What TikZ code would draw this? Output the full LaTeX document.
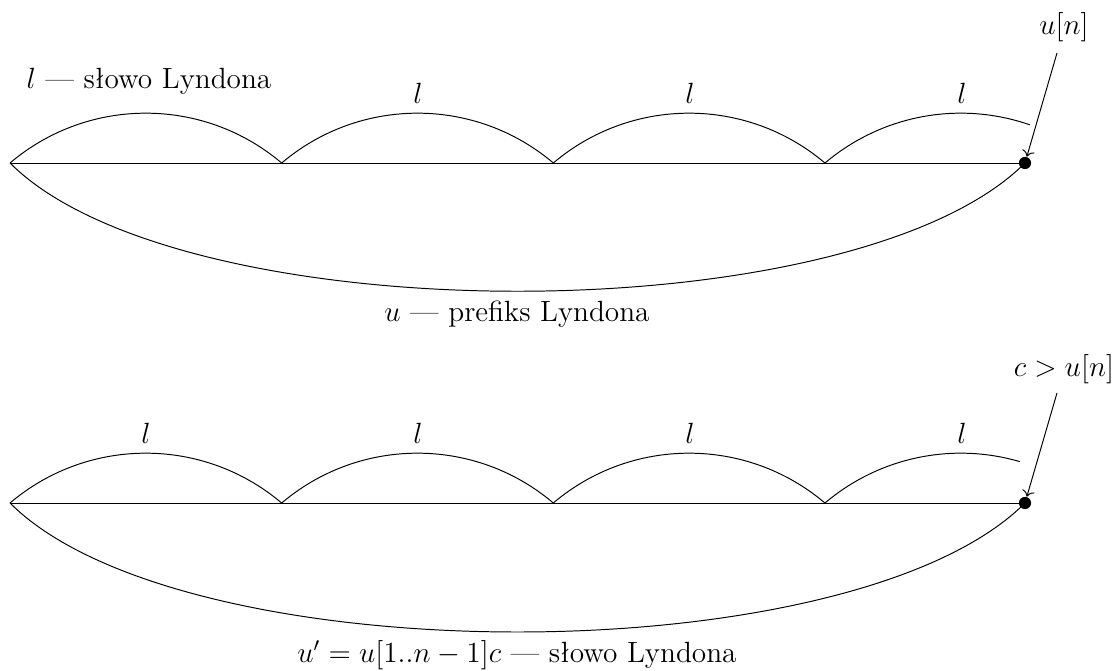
\documentclass[tikz,border=0pt]{standalone}
\usetikzlibrary{arrows.meta}
\begin{document}
\begin{tikzpicture}[x=0.41pt,y=0.41pt,
  font=\fontsize{12}{14.4}\selectfont,
  dotnode/.style={circle, fill=black, inner sep=0pt, minimum size=5pt},
  lbl/.style={inner sep=1pt, anchor=base},
  pointer/.style={draw, ->}]
\useasboundingbox (0,0) rectangle (1115,670);

% ---------- top diagram ----------
\coordinate (t0) at (10,507);
\coordinate (t1) at (281.7,507);
\coordinate (t2) at (553.3,507);
\coordinate (t3) at (825,507);
\node[dotnode] (tdot) at (1025,507) {};
\draw (t0) -- (tdot.center);
\draw (t0) arc[start angle=130.3, end angle=49.7, radius=210];
\draw (t1) arc[start angle=130.3, end angle=49.7, radius=210];
\draw (t2) arc[start angle=130.3, end angle=49.7, radius=210];
\draw (t3) arc[start angle=130.3, end angle=70.8, radius=210];
\draw (t0) .. controls (181,336) and (854,336) .. (tdot.center);

\node[lbl] (tl0) at (149,582) {$l$ --- słowo Lyndona};
\node[lbl] (tl1) at (418,567) {$l$};
\node[lbl] (tl2) at (690,567) {$l$};
\node[lbl] (tl3) at (962,567) {$l$};
\node[lbl] (un) at (1064,636) {$u[n]$};
\coordinate (unfoot) at (1057,617);
\draw[pointer] (unfoot) -- (tdot);
\node[lbl] (tu) at (517,349) {$u$ --- prefiks Lyndona};

% ---------- bottom diagram ----------
\coordinate (b0) at (10,167);
\coordinate (b1) at (281.7,167);
\coordinate (b2) at (553.3,167);
\coordinate (b3) at (825,167);
\node[dotnode] (bdot) at (1025,167) {};
\draw (b0) -- (bdot.center);
\draw (b0) arc[start angle=130.3, end angle=49.7, radius=210];
\draw (b1) arc[start angle=130.3, end angle=49.7, radius=210];
\draw (b2) arc[start angle=130.3, end angle=49.7, radius=210];
\draw (b3) arc[start angle=130.3, end angle=73.7, radius=210];
\draw (b0) .. controls (182,-5) and (853,-5) .. (bdot.center);

\node[lbl] (bl0) at (146,227) {$l$};
\node[lbl] (bl1) at (418,227) {$l$};
\node[lbl] (bl2) at (690,227) {$l$};
\node[lbl] (bl3) at (962,227) {$l$};
\node[lbl] (cu) at (1064,294) {$c > u[n]$};
\coordinate (cufoot) at (1057,277);
\draw[pointer] (cufoot) -- (bdot);
\node[lbl] (bu) at (517,8) {$u' = u[1..n-1]c$ --- słowo Lyndona};
\end{tikzpicture}
\end{document}
